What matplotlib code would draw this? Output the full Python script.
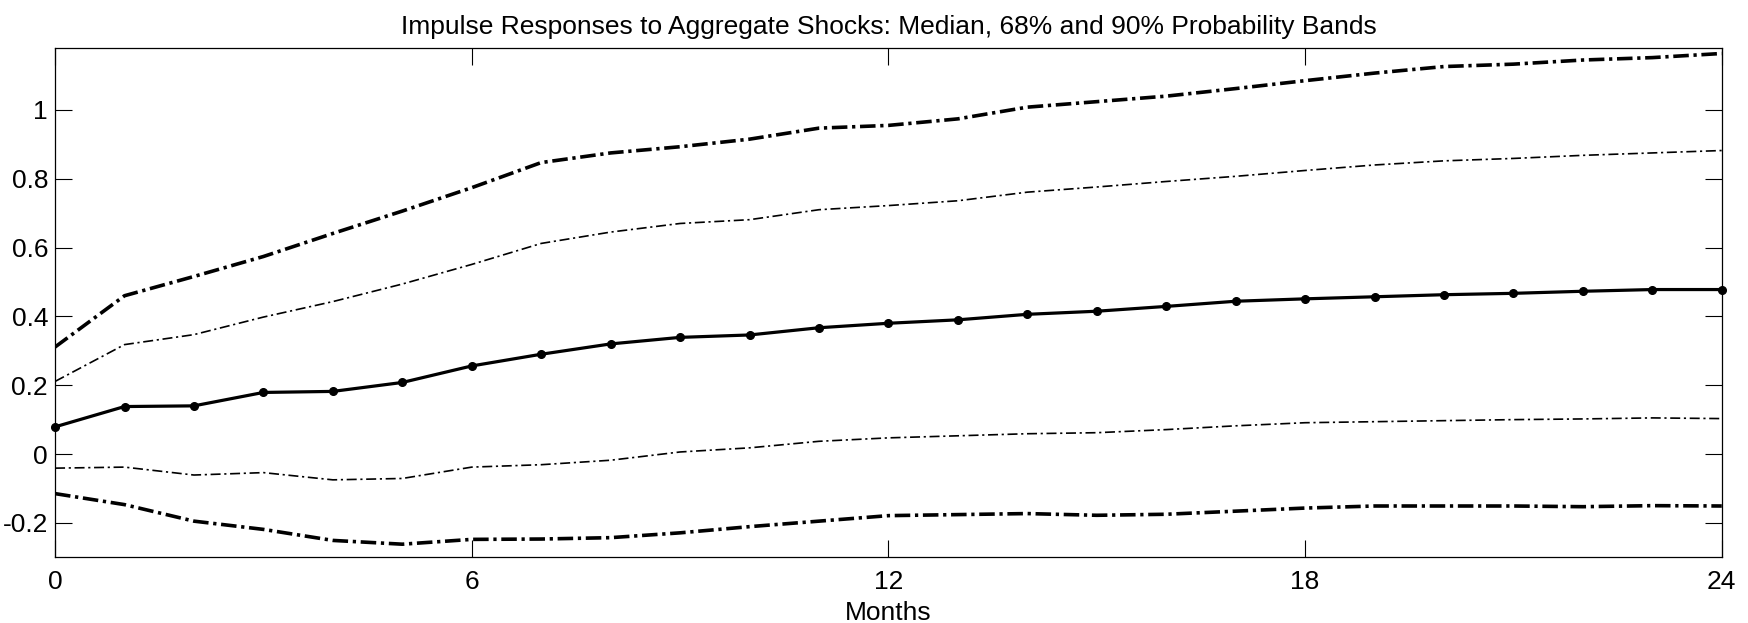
"""
plot.py

Impulse responses to aggregate shocks: median response with 68% and 90%
probability bands, drawn MATLAB-style (inward ticks on all four sides).
"""

import matplotlib
matplotlib.use("Agg")
import matplotlib.pyplot as plt

# ─── Data ──────────────────────────────────────────────────────────────────────
months = list(range(25))

median = [0.079, 0.138, 0.140, 0.179, 0.182, 0.208, 0.256, 0.290, 0.320,
          0.339, 0.346, 0.367, 0.380, 0.390, 0.406, 0.415, 0.429, 0.444,
          0.451, 0.457, 0.463, 0.467, 0.473, 0.478, 0.478]

upper_90 = [0.311, 0.460, 0.516, 0.574, 0.641, 0.706, 0.774, 0.847, 0.875,
            0.893, 0.915, 0.947, 0.955, 0.974, 1.008, 1.024, 1.040, 1.062,
            1.085, 1.107, 1.126, 1.133, 1.145, 1.152, 1.164]

upper_68 = [0.211, 0.318, 0.347, 0.398, 0.443, 0.494, 0.551, 0.612, 0.645,
            0.670, 0.681, 0.710, 0.722, 0.736, 0.761, 0.776, 0.792, 0.807,
            0.824, 0.840, 0.852, 0.859, 0.868, 0.875, 0.882]

lower_68 = [-0.041, -0.038, -0.061, -0.054, -0.075, -0.071, -0.038, -0.031,
            -0.018, 0.006, 0.018, 0.037, 0.047, 0.053, 0.059, 0.062, 0.071,
            0.082, 0.091, 0.094, 0.097, 0.100, 0.102, 0.105, 0.103]

lower_90 = [-0.115, -0.147, -0.195, -0.219, -0.251, -0.262, -0.248, -0.247,
            -0.243, -0.229, -0.211, -0.195, -0.179, -0.176, -0.173, -0.178,
            -0.175, -0.166, -0.157, -0.151, -0.151, -0.151, -0.153, -0.150,
            -0.151]

x_ticks = [0, 6, 12, 18, 24]
y_ticks = [-0.2, 0, 0.2, 0.4, 0.6, 0.8, 1]
y_tick_labels = ["-0.2", "0", "0.2", "0.4", "0.6", "0.8", "1"]

TITLE = "Impulse Responses to Aggregate Shocks: Median, 68% and 90% Probability Bands"
# ────────────────────────────────────────────────────────────────────────────────

FONT = ["Liberation Sans", "DejaVu Sans"]
FS = 19


def draw(ax):
    """
    Draws the median line with markers and both probability bands.
    """
    # 90% band: heavy dash-dot
    for band in (upper_90, lower_90):
        ax.plot(months, band, color="black", linewidth=2.6,
                dashes=(4.3, 1.3, 0.9, 1.3), dash_capstyle="butt")

    # 68% band: thin dash-dot
    for band in (upper_68, lower_68):
        ax.plot(months, band, color="black", linewidth=1.2,
                dashes=(6.0, 2.2, 1.3, 2.2), dash_capstyle="butt")

    # median
    ax.plot(months, median, color="black", linewidth=2.3,
            marker="o", markersize=5.5, clip_on=False, zorder=3)


def style(ax):
    ax.set_xlim(0, 24)
    ax.set_ylim(-0.3, 1.18)

    ax.set_xticks(x_ticks)
    ax.set_xticklabels([str(t) for t in x_ticks], family=FONT, fontsize=FS)
    ax.set_yticks(y_ticks)
    ax.set_yticklabels(y_tick_labels, family=FONT, fontsize=FS)

    ax.tick_params(direction="in", length=12, width=0.8,
                   top=True, right=True)
    ax.tick_params(axis="x", pad=9)
    ax.tick_params(axis="y", pad=5)

    for sp in ax.spines.values():
        sp.set_linewidth(0.9)

    ax.set_xlabel("Months", family=FONT, fontsize=FS, labelpad=5)
    ax.set_title(TITLE, family=FONT, fontsize=FS, pad=10)


def main():
    fig = plt.figure(figsize=(17.48, 6.23), dpi=100)
    ax = fig.add_axes([0.0315, 0.1055, 0.9535, 0.8175])
    draw(ax)
    style(ax)
    fig.savefig("out.png", dpi=100, facecolor="white")


if __name__ == "__main__":
    main()
